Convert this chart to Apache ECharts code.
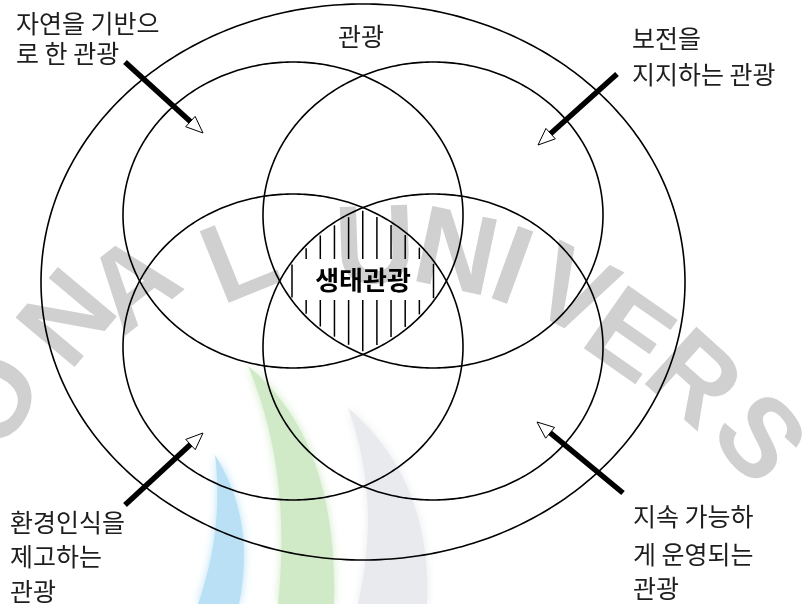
<!DOCTYPE html>
<html><head><meta charset="utf-8">
<script src="https://cdn.jsdelivr.net/npm/echarts@6/dist/echarts.min.js"></script>
<style>html,body{margin:0;padding:0;background:#fff}#c{width:808px;height:604px}</style>
</head><body><div id="c"></div>
<script>
// ---- content ----
const outerLabel = ['관광'];
const calloutTopLeft = ['자연을 기반으', '로 한 관광'];
const calloutTopRight = ['보전을', '지지하는 관광'];
const calloutBottomLeft = ['환경인식을', '제고하는', '관광'];
const calloutBottomRight = ['지속 가능하', '게 운영되는', '관광'];
const centerLabel = ['생태관광'];
const watermarkLetters = ['O','N','A','L','U','N','I','V','E','R','S'];

// ---- layout ----
const outer = {cx:363, cy:282, rx:322, ry:278};
const innerCenters = [[293,215],[433,215],[293,347],[433,347]];
const IRX = 170, IRY = 153;
const LINE = '#000';
const TEXT = '#1e1e1e';
const KFONT = '"Noto Sans CJK KR", sans-serif';

const els = [];

// watermark (behind everything)
const wmPos = [[-2,402,62],[72,322,50],[136,288,38],[242,264,22],[375,252,2],[455,258,-12],[510,272,-20],[571,297,-27],[626,340,-35],[690,383,-42],[755,442,-50]];
watermarkLetters.forEach((ch,i)=>{
  const p = wmPos[i];
  els.push({type:'text', x:p[0], y:p[1], rotation:p[2]*Math.PI/180, z:0, silent:true,
    style:{text:ch, fill:'#d0d0d0', font:'bold 112px "Liberation Sans", Arial, sans-serif',
      align:'center', verticalAlign:'middle', textAlign:'center', textVerticalAlign:'middle',
      shadowBlur:9, shadowColor:'#d8d8d8'}});
});
function quad(p0,c,p1,n){const r=[];for(let i=0;i<=n;i++){const t=i/n,a=(1-t)*(1-t),b=2*(1-t)*t,d=t*t;r.push([a*p0[0]+b*c[0]+d*p1[0],a*p0[1]+b*c[1]+d*p1[1]]);}return r;}
const logoShapes = [
  [[215,455],[256,520],[239,604],[198,604],[224,530],'#b9e0f4'],
  [[248,366],[338,440],[334,604],[278,604],[292,470],'#d0eac7'],
  [[348,408],[432,480],[427,604],[358,604],[382,500],'#e8eaed']
];
logoShapes.forEach(s=>{
  const pts = quad(s[0],s[1],s[2],30).concat(quad(s[3],s[4],s[0],30));
  els.push({type:'polygon', z:0, silent:true, shape:{points:pts}, style:{fill:s[5], shadowBlur:10, shadowColor:s[5]}});
});

function ellipsePts(cx,cy,rx,ry){
  const pts=[]; for(let i=0;i<360;i++){const a=i*Math.PI/180; pts.push([cx+rx*Math.cos(a), cy+ry*Math.sin(a)]);} return pts;
}
els.push({type:'polygon', z:10, silent:true, shape:{points:ellipsePts(outer.cx,outer.cy,outer.rx,outer.ry)}, style:{fill:'none', stroke:LINE, lineWidth:1.6}});
innerCenters.forEach(c=>els.push({type:'polygon', z:10, silent:true, shape:{points:ellipsePts(c[0],c[1],IRX,IRY)}, style:{fill:'none', stroke:LINE, lineWidth:1.6}}));

// hatching inside the four-way intersection
const box = {x0:306, x1:421, y0:259, y1:300};
const m = 3;
for(let x=292; x<=434; x+=14.15){
  let top=-1e9, bot=1e9;
  innerCenters.forEach(c=>{
    const t = 1-Math.pow((x-c[0])/IRX,2);
    if(t<0){top=1e9;return;}
    const d = IRY*Math.sqrt(t);
    top=Math.max(top,c[1]-d); bot=Math.min(bot,c[1]+d);
  });
  top+=m; bot-=m;
  if(bot-top<2) continue;
  const segs = (x>box.x0 && x<box.x1) ? [[top,Math.min(bot,box.y0)],[Math.max(top,box.y1),bot]] : [[top,bot]];
  segs.forEach(s=>{ if(s[1]-s[0]>1) els.push({type:'line', z:10, silent:true, shape:{x1:x,y1:s[0],x2:x,y2:s[1]}, style:{stroke:LINE, lineWidth:1.5}}); });
}

// center label
els.push({type:'text', x:363, y:280, z:12, silent:true, style:{text:centerLabel[0], fill:'#000',
  font:'bold 26px '+KFONT, align:'center', verticalAlign:'middle', textAlign:'center', textVerticalAlign:'middle'}});

// arrows
function arrow(tx,ty,hx,hy){
  const dx=hx-tx, dy=hy-ty, L=Math.hypot(dx,dy), ux=dx/L, uy=dy/L, nx=-uy, ny=ux;
  const hl=17, hw=7;
  const bx=hx-ux*hl, by=hy-uy*hl;
  els.push({type:'line', z:11, silent:true, shape:{x1:tx,y1:ty,x2:bx+ux*1,y2:by+uy*1}, style:{stroke:LINE, lineWidth:5.5}});
  els.push({type:'polygon', z:11, silent:true, shape:{points:[[hx,hy],[bx+nx*hw,by+ny*hw],[bx-nx*hw,by-ny*hw]]}, style:{fill:'#fff', stroke:LINE, lineWidth:1}});
}
arrow(125,62,203,133);
arrow(617,74,538,145);
arrow(125,505,203,433);
arrow(623,493,537,422);

// labels
function lines(arr,x,ys,align){
  arr.forEach((t,i)=>els.push({type:'text', x:x, y:ys[i], z:12, silent:true, style:{text:t, fill:TEXT,
    font:'25px '+KFONT, align:align||'left', verticalAlign:'middle', textAlign:align||'left', textVerticalAlign:'middle'}}));
}
lines(outerLabel,361,[36],'center');
lines(calloutTopLeft,16,[23,53]);
lines(calloutTopRight,632,[38,74]);
lines(calloutBottomLeft,10,[522,556,591]);
lines(calloutBottomRight,633,[516,554,588]);

const chart = echarts.init(document.getElementById('c'));
chart.setOption({animation:false, backgroundColor:'#fff', graphic:{elements:els}});
</script></body></html>
